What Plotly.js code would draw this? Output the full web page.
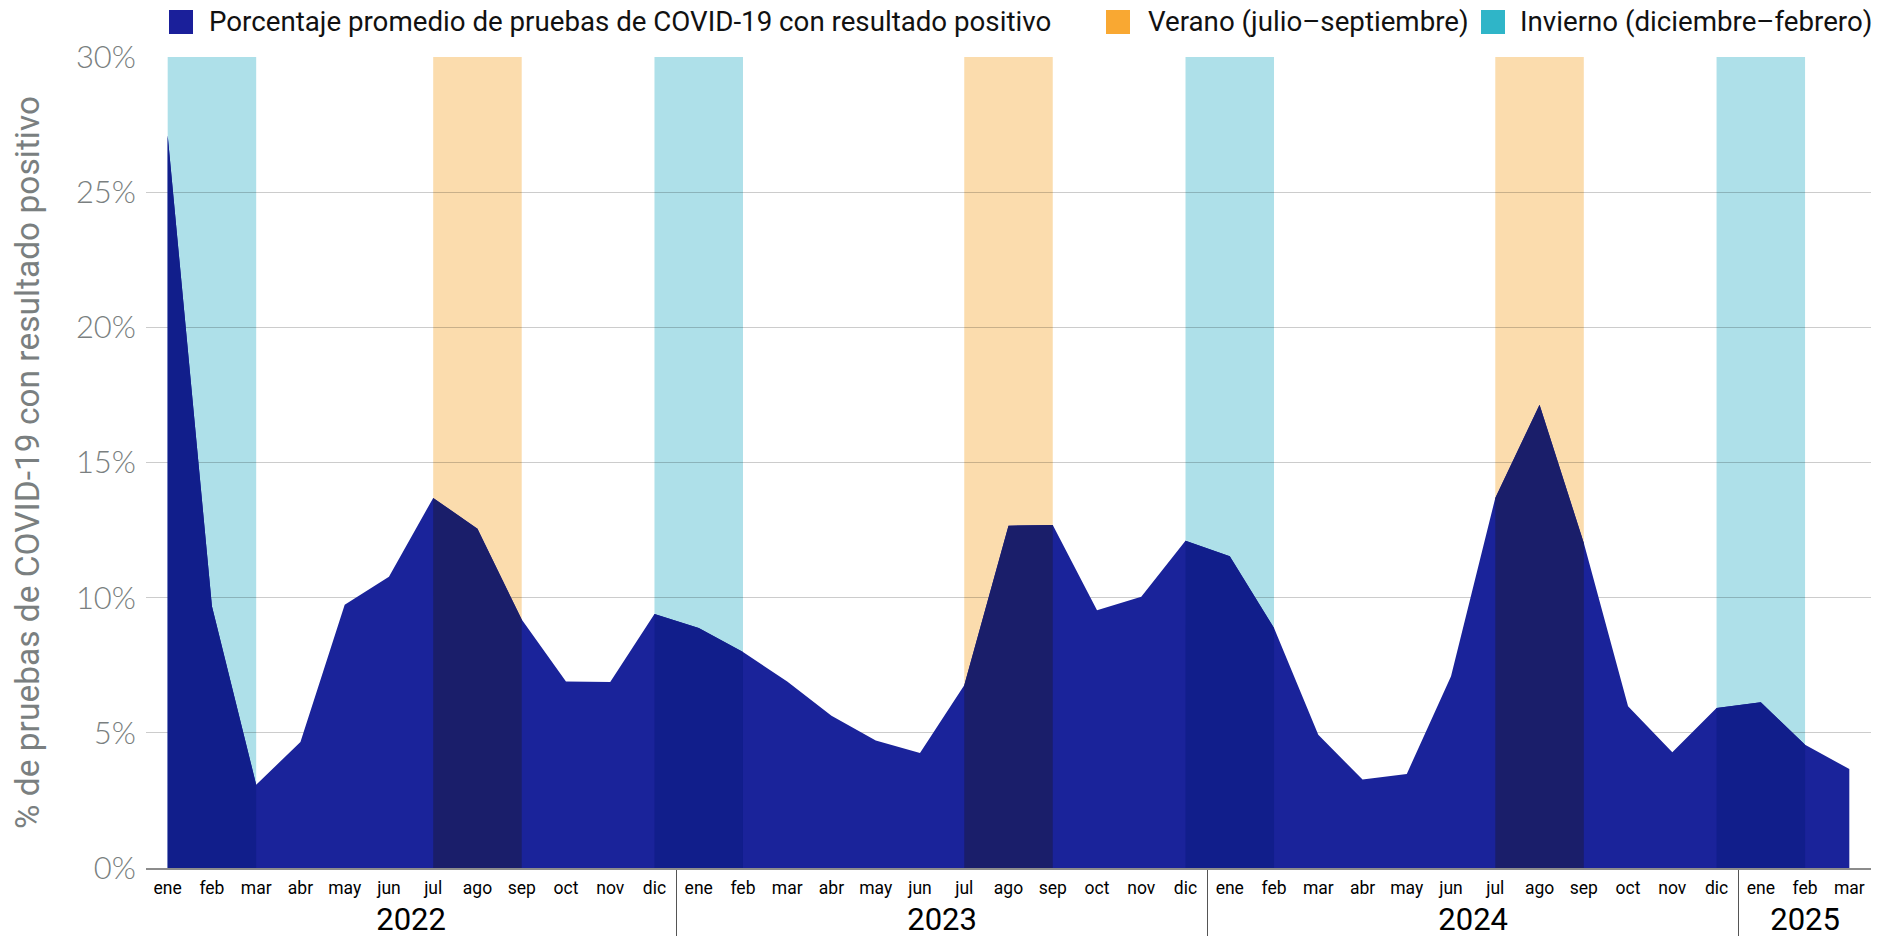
<!DOCTYPE html>
<html>
<head>
<meta charset="utf-8">
<script src="https://cdn.plot.ly/plotly-3.0.1.min.js"></script>
<style>
  html, body { margin: 0; padding: 0; background: #ffffff; }
  #chart { width: 1893px; height: 936px; }
</style>
</head>
<body>
<div id="chart"></div>
<script>
// ---------------- DATA ----------------
const yearLabels = [
  '2022','2022','2022','2022','2022','2022','2022','2022','2022','2022','2022','2022',
  '2023','2023','2023','2023','2023','2023','2023','2023','2023','2023','2023','2023',
  '2024','2024','2024','2024','2024','2024','2024','2024','2024','2024','2024','2024',
  '2025','2025','2025'
];
const monthLabels = [
  'ene','feb','mar','abr','may','jun','jul','ago','sep','oct','nov','dic',
  'ene','feb','mar','abr','may','jun','jul','ago','sep','oct','nov','dic',
  'ene','feb','mar','abr','may','jun','jul','ago','sep','oct','nov','dic',
  'ene','feb','mar'
];
const positivePct = [
  27.10, 9.68, 3.08, 4.66, 9.74, 10.77, 13.69, 12.55, 9.19, 6.90, 6.88, 9.40,
  8.88, 7.99, 6.90, 5.63, 4.72, 4.25, 6.76, 12.66, 12.69, 9.53, 10.03, 12.11,
  11.53, 8.88, 4.93, 3.27, 3.48, 7.09, 13.69, 17.14, 12.02, 5.98, 4.28, 5.92,
  6.13, 4.56, 3.66
];
// Season bands (start / end month as categories)
const bandSeason     = ['invierno','verano','invierno','verano','invierno','verano','invierno'];
const bandStartYear  = ['2022','2022','2022','2023','2023','2024','2024'];
const bandStartMonth = ['ene','jul','dic','jul','dic','jul','dic'];
const bandEndYear    = ['2022','2022','2023','2023','2024','2024','2025'];
const bandEndMonth   = ['mar','sep','feb','sep','feb','sep','feb'];

const seriesName = 'Porcentaje promedio de pruebas de COVID-19 con resultado positivo';
const summerName = 'Verano (julio–septiembre)';
const winterName = 'Invierno (diciembre–febrero)';
const yTitle = '% de pruebas de COVID-19 con resultado positivo';

// ---------------- STYLE ----------------
const C = {
  area: '#1a239a',
  areaWinter: '#111e8b',
  areaSummer: '#1a1e6a',
  bandWinter: '#aee0e9',
  bandSummer: '#fbdcad',
  keySeries: '#1a1f9a',
  keySummer: '#f9a832',
  keyWinter: '#2fb5c8',
  grey: '#7a7f80'
};

function idxOf(y, m) {
  for (let i = 0; i < yearLabels.length; i++) {
    if (yearLabels[i] === y && monthLabels[i] === m) return i;
  }
  return -1;
}
// presentation of the two label levels
const yearTick = y => '<span style="font-size:31px">' + y + '</span>';
const monthTick = m => '<span style="font-size:17.5px">' + m + '</span><br>\u00a0';
const xYears = yearLabels.map(yearTick);
const xMonths = monthLabels.map(monthTick);

const traces = [];
// base area (all points) - first so category order is natural
traces.push({
  type: 'scatter', mode: 'lines',
  x: [xYears, xMonths],
  y: positivePct,
  fill: 'tozeroy', fillcolor: C.area,
  line: { width: 0, color: C.area },
  showlegend: false, hoverinfo: 'skip'
});
// overlays within season bands (multiply look)
const shapes = [];
for (let b = 0; b < bandSeason.length; b++) {
  const i0 = idxOf(bandStartYear[b], bandStartMonth[b]);
  const i1 = idxOf(bandEndYear[b], bandEndMonth[b]);
  const col = bandSeason[b] === 'verano' ? C.areaSummer : C.areaWinter;
  traces.push({
    type: 'scatter', mode: 'lines',
    x: [xYears.slice(i0, i1 + 1), xMonths.slice(i0, i1 + 1)],
    y: positivePct.slice(i0, i1 + 1),
    fill: 'tozeroy', fillcolor: col,
    line: { width: 0, color: col },
    showlegend: false, hoverinfo: 'skip'
  });
  shapes.push({
    type: 'rect', layer: 'below',
    xref: 'x', yref: 'y',
    x0: i0, x1: i1, y0: 0, y1: 30,
    fillcolor: bandSeason[b] === 'verano' ? C.bandSummer : C.bandWinter,
    line: { width: 0 }
  });
}

// ---------------- custom key (legend) ----------------
const M = { l: 146, r: 22, t: 57, b: 68 };
const W = 1893, H = 936;
const pw = W - M.l - M.r, ph = H - M.t - M.b;
const px = x => (x - M.l) / pw;
const py = y => (H - M.b - y) / ph;
const keyItems = [
  { sq: 169, tx: 207, text: seriesName, color: C.keySeries },
  { sq: 1106, tx: 1146, text: summerName, color: C.keySummer },
  { sq: 1481, tx: 1518, text: winterName, color: C.keyWinter }
];
const annotations = [];
keyItems.forEach(k => {
  shapes.push({
    type: 'rect', xref: 'paper', yref: 'paper', layer: 'above',
    x0: px(k.sq), x1: px(k.sq + 24), y0: py(34), y1: py(10),
    fillcolor: k.color, line: { width: 0 }
  });
  annotations.push({
    xref: 'paper', yref: 'paper', x: px(k.tx), y: py(22),
    xanchor: 'left', yanchor: 'middle', showarrow: false,
    text: k.text,
    font: { family: 'Roboto, Arial, sans-serif', size: 27.7, color: '#111111' }
  });
});

const layout = {
  width: W, height: H,
  margin: M,
  paper_bgcolor: '#ffffff', plot_bgcolor: '#ffffff',
  showlegend: false,
  xaxis: {
    type: 'multicategory',
    range: [-0.49, 38.49],
    showgrid: false, zeroline: false,
    showline: true, linecolor: '#8c8c8c', linewidth: 2,
    ticks: '',
    ticklabelstandoff: 6,
    tickfont: { family: 'Roboto, Arial, sans-serif', size: 15, color: '#000000' },
    showdividers: true, dividercolor: '#555555', dividerwidth: 1
  },
  yaxis: {
    range: [0, 30], dtick: 5, ticksuffix: '%',
    showgrid: true, gridcolor: 'rgba(0,0,0,0.2)', gridwidth: 1,
    zeroline: false, showline: false, ticks: '',
    ticklabelstandoff: 9,
    tickfont: { family: 'Lato, Roboto, sans-serif', size: 31, color: C.grey, weight: 300 },
    title: {
      text: yTitle, standoff: 26,
      font: { family: 'Roboto, Arial, sans-serif', size: 33.5, color: C.grey }
    }
  },
  shapes: shapes,
  annotations: annotations
};

Plotly.newPlot('chart', traces, layout, { displayModeBar: false, staticPlot: true });
</script>
</body>
</html>
